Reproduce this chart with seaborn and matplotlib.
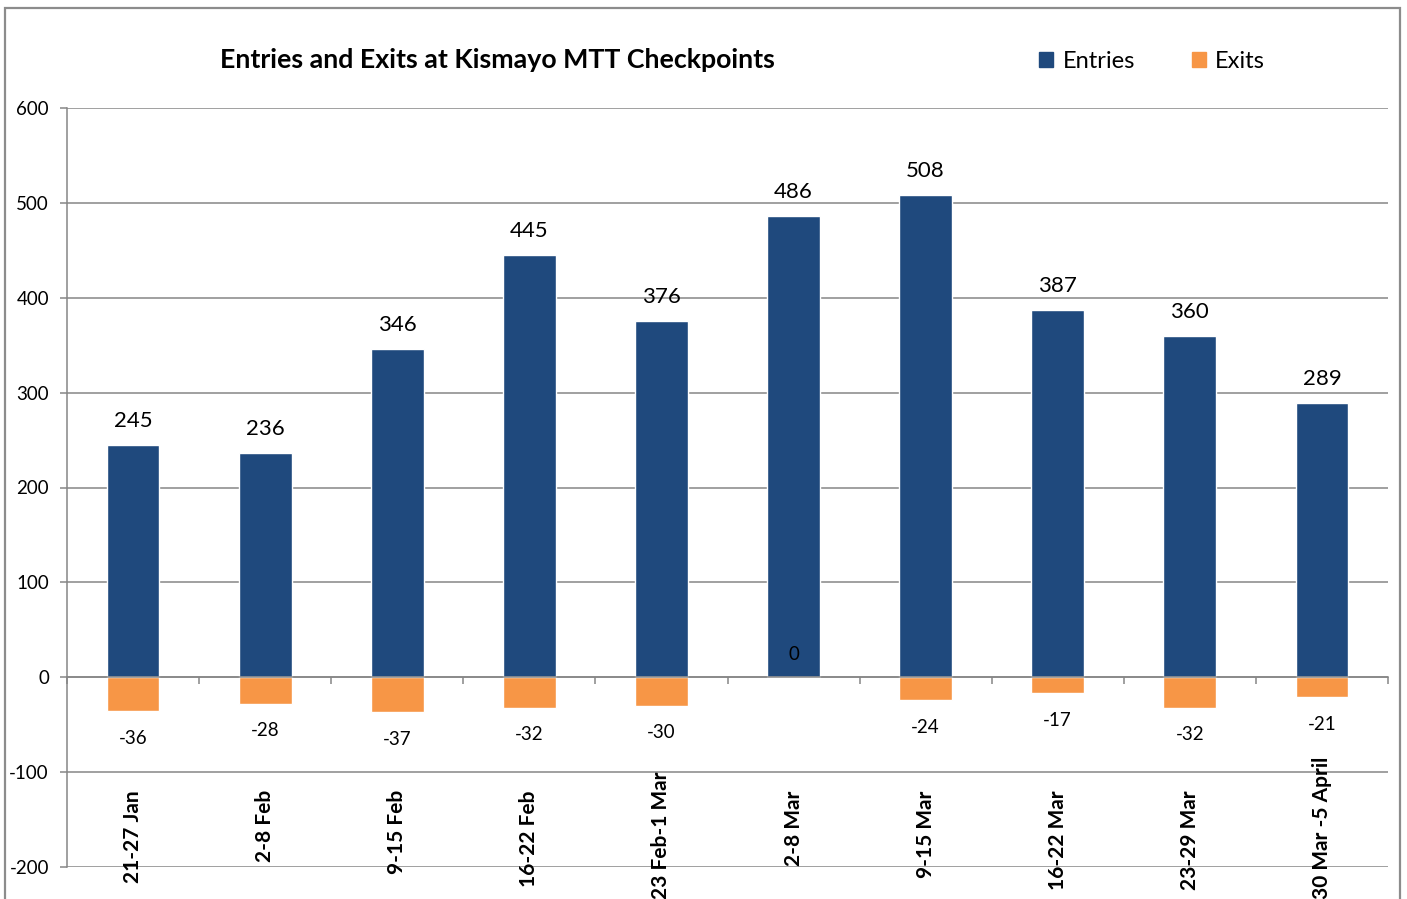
import numpy as np
import pandas as pd
import seaborn as sns
import matplotlib.pyplot as plt
import matplotlib.patches as mpatches

# Datos
semanas = ['21-27 Jan', '2-8 Feb', '9-15 Feb', '16-22 Feb', '23 Feb-1 Mar',
           '2-8 Mar', '9-15 Mar', '16-22 Mar', '23-29 Mar', '30 Mar -5 April']
entradas = [245, 236, 346, 445, 376, 486, 508, 387, 360, 289]
salidas = [-36, -28, -37, -32, -30, 0, -24, -17, -32, -21]

color_entradas = '#1F497D'
color_salidas = '#F79646'
gris = '#868686'

sns.set_style('white')
plt.rcParams['font.family'] = ['Lato', 'DejaVu Sans']
plt.rcParams['axes.unicode_minus'] = False
plt.rcParams['text.color'] = 'black'
plt.rcParams['ytick.labelcolor'] = 'black'

df = pd.DataFrame({'semana': semanas, 'entradas': entradas, 'salidas': salidas})

fig = plt.figure(figsize=(14.07, 8.99), dpi=100)
ax = fig.add_axes([67 / 1407, 32 / 899, 1321 / 1407, 759 / 899])

sns.barplot(data=df, x='semana', y='entradas', color=color_entradas, saturation=1,
            width=0.4, errorbar=None, ax=ax, zorder=3)
sns.barplot(data=df, x='semana', y='salidas', color=color_salidas, saturation=1,
            width=0.4, errorbar=None, ax=ax, zorder=3)

ax.set_ylim(-200, 600)
ax.set_xlim(-0.5, len(semanas) - 0.5)
ax.set_yticks(range(-200, 601, 100))
ax.set_xlabel('')
ax.set_ylabel('')

# grilla y ejes
ax.grid(axis='y', color=gris, linewidth=1.1, zorder=0)
ax.set_axisbelow(True)
for lado in ['top', 'right']:
    ax.spines[lado].set_visible(False)
ax.spines['left'].set_color(gris)
ax.spines['left'].set_linewidth(1.1)
ax.spines['bottom'].set_position(('data', 0))
ax.spines['bottom'].set_color(gris)
ax.spines['bottom'].set_linewidth(1.1)
ax.spines['bottom'].set_zorder(4)

ax.tick_params(axis='y', direction='out', length=5, width=1.1, color=gris,
               labelsize=13.5, labelcolor='black', pad=8, left=True)
ax.set_xticks(np.arange(-0.5, len(semanas), 1), minor=True)
ax.tick_params(axis='x', which='minor', direction='out', length=5, width=1.1,
               color=gris, bottom=True)
ax.tick_params(axis='x', which='major', bottom=False, labelbottom=False)

# etiquetas de datos
for i, v in enumerate(entradas):
    ax.annotate(str(v), (i, v), xytext=(0, 24), textcoords='offset pixels',
                ha='center', va='center', fontsize=16, color='black', zorder=5)
for i, v in enumerate(salidas):
    dy = -27 if v < 0 else 23
    ax.annotate(str(v), (i, v), xytext=(0, dy), textcoords='offset pixels',
                ha='center', va='center', fontsize=13.5, color='black', zorder=5)

# etiquetas de categorias (estilo Excel, dentro del area)
textos = []
for i, s in enumerate(semanas):
    t = ax.text(i, -119, s, rotation=90, ha='center', va='top', color='black',
                fontsize=15, fontweight='bold', zorder=5)
    textos.append(t)

fig.canvas.draw()
renderer = fig.canvas.get_renderer()
for t in textos:
    bb = t.get_window_extent(renderer)
    if bb.y0 < 0:
        x, y = t.get_position()
        y_disp = ax.transData.transform((x, y))[1] + (0 - bb.y0)
        t.set_y(ax.transData.inverted().transform((0, y_disp))[1])

# titulo
fig.text(497 / 1407, 1 - 60 / 899, 'Entries and Exits at Kismayo MTT Checkpoints',
         ha='center', va='center', fontsize=19.3, fontweight='bold', color='black')

# leyenda
handles = [mpatches.Patch(color=color_entradas, label='Entries'),
           mpatches.Patch(color=color_salidas, label='Exits')]
fig.legend(handles=handles, loc='center', bbox_to_anchor=(1152 / 1407, 1 - 61 / 899),
           ncol=2, frameon=False, fontsize=17, handlelength=0.6, handleheight=0.6,
           handletextpad=0.4, columnspacing=2.4, labelcolor='black')

# borde exterior
fig.patches.append(mpatches.Rectangle((5 / 1407, -0.02), 1395 / 1407, 1.02 - 8 / 899,
                                      transform=fig.transFigure, fill=False,
                                      edgecolor='#8C8C8C', linewidth=1.6))

fig.savefig('out.png', dpi=100)
